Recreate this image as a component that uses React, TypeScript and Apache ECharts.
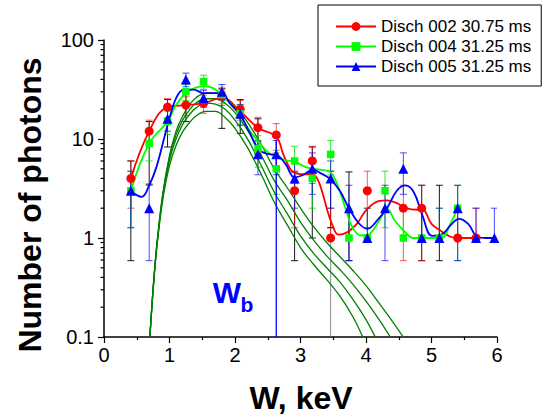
import React, { useEffect, useRef } from "react";
import * as echarts from "echarts";

// ---------- data ----------
const xValues = [0.41, 0.69, 0.97, 1.25, 1.52, 1.8, 2.08, 2.35, 2.63, 2.91, 3.18, 3.46, 3.74, 4.02, 4.29, 4.57, 4.85, 5.12, 5.4, 5.68, 5.96];

const seriesNames = ["Disch 002 30.75 ms", "Disch 004 31.25 ms", "Disch 005 31.25 ms"];

const redValues = [4, 12, 21, 22, 23, 27, 20, 13, 11, 3, 6, 1, null, 3, null, 2, 2, null, 1, 1, null];
const redLow = [2, 8.5, 16.4, 17.3, 18.2, 21.8, 15.5, 9.4, 7.7, 1.27, 3.55, 1, null, 1.27, null, 0.59, 0.59, null, 1, 1, null];
const redHigh = [6, 15.5, 25.6, 26.7, 27.8, 32.2, 24.5, 16.6, 14.3, 4.73, 8.45, 2, null, 4.73, null, 3.41, 3.41, null, 2, 2, null];

const greenValues = [3, 9, 15, 30, 38, 28, 18, 8, 5, 6, 4, 7, 1, 1, 3, 1, 1, 1, 2, null, null];
const greenLow = [1.27, 6, 11.1, 24.5, 31.8, 22.7, 13.8, 5.2, 2.76, 3.55, 2, 4.35, 1, 1, 1.27, 1, 1, 1, 0.59, null, null];
const greenHigh = [4.73, 12, 18.9, 35.5, 44.2, 33.3, 22.2, 10.8, 7.24, 8.45, 6, 9.65, 2, 2, 4.73, 2, 2, 2, 3.41, null, null];

const blueValues = [3, 2, 16, 40, 26, 30, 18, 7, 7, 4, 5, 4, 2, 1, 2, 5, 1, 1, 2, 1, 1];
const blueLow = [1.27, 0.59, 12, 33.7, 20.9, 24.5, 13.8, 4.35, 4.35, 2, 2.76, 2, 0.59, 1, 0.59, 2.76, 1, 1, 0.59, 1, 1];
const blueHigh = [4.73, 3.41, 20, 46.3, 31.1, 35.5, 22.2, 9.65, 9.65, 6, 7.24, 6, 3.41, 2, 3.41, 7.24, 2, 2, 3.41, 2, 2];

const blackBarX = [0.41, 0.69, 0.97, 1.25, 1.8, 2.08, 2.35, 2.91, 3.18, 3.46, 3.74, 4.85, 5.12];
const blackBarLow = [0.59, 3.5, 8.3, 15, 12.8, 11.4, 7, 0.59, 1.0, 1.27, 0.59, 0.59, 0.59];
const blackBarHigh = [6, 15, 25, 29, 32, 25, 16, 4.65, 8.3, 4.73, 4.65, 3.41, 3.41];

const grayBarX = [3.46];
const grayBarLow = [0.1];
const grayBarHigh = [1.27];

// smoothed curves through the data (as drawn in the reference)
const redCurve = [
  [0.41, 4], [0.69, 12], [0.97, 21], [1.25, 22], [1.52, 23], [1.8, 26], [2.08, 19], [2.35, 13],
  [2.63, 10.5], [2.74, 6.9], [2.85, 4.9], [2.93, 4.5], [3.09, 4.4], [3.19, 4.4], [3.27, 3.8],
  [3.34, 2.8], [3.41, 1.9], [3.48, 1.39], [3.58, 1.08], [3.71, 1.14], [3.86, 1.39], [4.0, 1.9],
  [4.19, 2.36], [4.32, 2.4], [4.47, 2.25], [4.6, 2.02], [4.78, 1.93], [4.86, 1.95], [5.0, 1.39],
  [5.15, 1.17], [5.29, 1.03], [5.43, 1.0], [5.69, 1.0],
];
const greenCurve = [
  [0.41, 3], [0.69, 9], [0.97, 15], [1.1, 22], [1.25, 29], [1.4, 33], [1.52, 34], [1.65, 33],
  [1.8, 28], [1.95, 22], [2.08, 17], [2.23, 12], [2.35, 9.5], [2.53, 7.1], [2.63, 6.6], [2.77, 6.1],
  [2.91, 5.9], [3.08, 5.2], [3.19, 5.0], [3.3, 4.9], [3.45, 4.65], [3.56, 3.5], [3.68, 2.05],
  [3.79, 1.29], [3.92, 1.06], [4.05, 1.1], [4.19, 1.45], [4.32, 1.98], [4.44, 1.5], [4.6, 1.14],
  [4.72, 1.0], [4.93, 1.0], [5.15, 1.0], [5.29, 1.4], [5.4, 2.0],
];
const blueCurve = [
  [0.41, 3], [0.575, 2.6], [0.69, 3.4], [0.8, 5.2], [0.93, 10.9], [0.99, 15.5], [1.11, 26.7],
  [1.22, 31.6], [1.37, 31.6], [1.52, 29], [1.66, 29], [1.8, 29], [1.92, 23], [2.08, 17.5],
  [2.23, 11.4], [2.35, 8.0], [2.48, 7.1], [2.63, 6.9], [2.77, 5.6], [2.91, 4.1], [3.03, 4.3],
  [3.19, 4.9], [3.31, 4.5], [3.44, 4.0], [3.6, 3.0], [3.74, 2.0], [3.89, 1.41], [4.02, 1.24],
  [4.19, 1.56], [4.32, 2.0], [4.47, 3.0], [4.6, 3.4], [4.73, 2.9], [4.86, 1.7], [5.01, 1.05],
  [5.15, 1.08], [5.29, 1.34], [5.42, 1.56], [5.56, 1.39], [5.7, 1.03], [5.84, 1.0], [5.98, 1.0],
];

// model spectra (dark green)
const modelCurveA = [
  [0.7, 0.1], [0.74, 0.25], [0.78, 0.55], [0.82, 1.05], [0.9, 2.9], [1.0, 6.8], [1.1, 12], [1.2, 17],
  [1.3, 22], [1.4, 26], [1.55, 29], [1.7, 29], [1.85, 26], [2.0, 21.5], [2.2, 14.5], [2.4, 8.8],
  [2.6, 5], [2.8, 3.2], [3.0, 2.0], [3.2, 1.3], [3.4, 0.9], [3.6, 0.65], [3.8, 0.47], [4.0, 0.33],
  [4.2, 0.22], [4.4, 0.145], [4.57, 0.1],
];
const modelCurveB = [
  [0.7, 0.1], [0.74, 0.25], [0.78, 0.55], [0.82, 1.03], [0.9, 2.8], [1.0, 6.5], [1.1, 11], [1.2, 15.5],
  [1.3, 19.5], [1.4, 23], [1.55, 25.5], [1.7, 25.5], [1.85, 23], [2.0, 18.5], [2.2, 12], [2.4, 6.9],
  [2.6, 3.8], [2.8, 2.4], [3.0, 1.45], [3.2, 0.95], [3.4, 0.66], [3.6, 0.48], [3.8, 0.34], [4.0, 0.23],
  [4.2, 0.15], [4.37, 0.1],
];
const modelCurveC = [
  [0.7, 0.1], [0.74, 0.25], [0.78, 0.54], [0.82, 1.0], [0.9, 2.7], [1.0, 6.1], [1.1, 10], [1.2, 14],
  [1.3, 17.5], [1.4, 20.5], [1.55, 23], [1.7, 22.5], [1.85, 20], [2.0, 15.5], [2.2, 9.8], [2.4, 5.4],
  [2.6, 2.9], [2.8, 1.75], [3.0, 1.05], [3.2, 0.7], [3.4, 0.5], [3.6, 0.36], [3.8, 0.24], [4.0, 0.15],
  [4.14, 0.1],
];
const modelCurveD = [
  [0.7, 0.1], [0.74, 0.24], [0.78, 0.52], [0.82, 0.97], [0.9, 2.5], [1.0, 5.4], [1.1, 8.6], [1.2, 11.8],
  [1.3, 14.5], [1.4, 17], [1.55, 19], [1.7, 19], [1.85, 16.5], [2.0, 12.8], [2.2, 8.0], [2.4, 4.4],
  [2.6, 2.3], [2.8, 1.35], [3.0, 0.8], [3.2, 0.54], [3.4, 0.38], [3.6, 0.26], [3.8, 0.16], [3.95, 0.1],
];

const wbX = 2.63;
const wbTop = 9.65;

const xTickValues = [0, 1, 2, 3, 4, 5, 6];
const yMajorTicks = [0.1, 1, 10, 100];

// ---------- helpers ----------
const FONT = '"Liberation Sans", Arial, sans-serif';
const RED = "#ff0000";
const GREEN = "#00ff00";
const BLUE = "#0000ff";
const DARK_GREEN = "#008000";

function points(vals: (number | null)[]) {
  const out: number[][] = [];
  vals.forEach((v, i) => {
    if (v !== null) out.push([xValues[i], v]);
  });
  return out;
}

function bars(vals: (number | null)[], low: (number | null)[], high: (number | null)[]) {
  const out: number[][] = [];
  vals.forEach((v, i) => {
    if (v !== null && low[i] !== null && high[i] !== null) out.push([xValues[i], low[i] as number, high[i] as number]);
  });
  return out;
}

function errorBarSeries(data: number[][], color: string, z: number, bottomCap = true) {
  return {
    type: "custom",
    silent: true,
    z,
    clip: true,
    encode: { x: 0, y: [1, 2] },
    data,
    renderItem: (params: any, api: any) => {
      const x = api.value(0);
      const lo = api.value(1);
      const hi = api.value(2);
      const top = api.coord([x, hi]);
      const bot = api.coord([x, lo]);
      const w = 3.5;
      const style = { stroke: color, lineWidth: 1 };
      const children: any[] = [
        { type: "line", shape: { x1: top[0], y1: top[1], x2: bot[0], y2: bot[1] }, style },
        { type: "line", shape: { x1: top[0] - w, y1: top[1], x2: top[0] + w, y2: top[1] }, style },
      ];
      if (bottomCap) {
        children.push({ type: "line", shape: { x1: bot[0] - w, y1: bot[1], x2: bot[0] + w, y2: bot[1] }, style });
      }
      return { type: "group", children };
    },
  };
}

function modelSeries(data: number[][]) {
  return {
    type: "line",
    data,
    smooth: 0.4,
    showSymbol: false,
    symbol: "none",
    silent: true,
    z: 2,
    lineStyle: { color: DARK_GREEN, width: 1.3 },
  };
}

// minor ticks of the log axis (2..9 in each decade)
const yMinorTicks: number[] = [];
[0.1, 1, 10].forEach((d) => {
  for (let k = 2; k <= 9; k++) yMinorTicks.push(+(d * k).toPrecision(3));
});

export default function App() {
  const ref = useRef<HTMLDivElement>(null);

  useEffect(() => {
    if (!ref.current) return;
    const chart = echarts.init(ref.current, undefined, { renderer: "svg" });

    const option: any = {
      animation: false,
      backgroundColor: "#ffffff",
      textStyle: { fontFamily: FONT },
      grid: { left: 104, right: 49, top: 40, bottom: 80 },
      legend: {
        data: seriesNames,
        orient: "vertical",
        left: 318,
        top: 5,
        padding: [13, 10, 11, 17],
        itemGap: 3,
        itemWidth: 40,
        itemHeight: 11,
        borderColor: "#000",
        borderWidth: 1,
        backgroundColor: "#fff",
        textStyle: { fontFamily: FONT, fontSize: 17, color: "#000", lineHeight: 17 },
      },
      xAxis: {
        type: "value",
        min: xTickValues[0],
        max: xTickValues[xTickValues.length - 1],
        interval: 1,
        axisLine: { show: true, onZero: false, lineStyle: { color: "#000", width: 1.5 } },
        axisTick: { show: true, length: 6, lineStyle: { color: "#000", width: 1.2 } },
        minorTick: { show: true, splitNumber: 2, length: 3, lineStyle: { color: "#000", width: 1.2 } },
        splitLine: { show: false },
        minorSplitLine: { show: false },
        axisLabel: { fontFamily: FONT, fontSize: 20, color: "#000", margin: 8 },
      },
      yAxis: {
        type: "log",
        logBase: 10,
        min: yMajorTicks[0],
        max: yMajorTicks[yMajorTicks.length - 1],
        axisLine: { show: true, lineStyle: { color: "#000", width: 1.5 } },
        axisTick: { show: true, length: 6, lineStyle: { color: "#000", width: 1.2 } },
        minorTick: { show: false },
        splitLine: { show: false },
        axisLabel: {
          fontFamily: FONT,
          fontSize: 20,
          color: "#000",
          margin: 10,
          formatter: (v: number) => String(v),
        },
      },
      graphic: [
        {
          type: "text",
          x: 30,
          y: 205,
          rotation: Math.PI / 2,
          style: {
            text: "Number of photons",
            font: `bold 32px ${FONT}`,
            fill: "#000",
            align: "center",
            verticalAlign: "middle",
            textAlign: "center",
            textVerticalAlign: "middle",
          },
        },
        {
          type: "text",
          x: 301,
          y: 398,
          style: {
            text: "W, keV",
            font: `bold 32px ${FONT}`,
            fill: "#000",
            align: "center",
            verticalAlign: "middle",
            textAlign: "center",
            textVerticalAlign: "middle",
          },
        },
        {
          type: "text",
          x: 227,
          y: 292,
          style: {
            text: "W",
            font: `bold 30px ${FONT}`,
            fill: BLUE,
            align: "center",
            verticalAlign: "middle",
            textAlign: "center",
            textVerticalAlign: "middle",
          },
        },
        {
          type: "text",
          x: 247,
          y: 304,
          style: {
            text: "b",
            font: `bold 21px ${FONT}`,
            fill: BLUE,
            align: "center",
            verticalAlign: "middle",
            textAlign: "center",
            textVerticalAlign: "middle",
          },
        },
      ],
      series: [
        // minor ticks on the log axis
        {
          type: "custom",
          silent: true,
          z: 10,
          clip: false,
          data: yMinorTicks.map((v) => [0, v]),
          encode: { x: 0, y: 1 },
          renderItem: (params: any, api: any) => {
            const p = api.coord([0, api.value(1)]);
            return {
              type: "line",
              shape: { x1: p[0] - 3.5, y1: p[1], x2: p[0], y2: p[1] },
              style: { stroke: "#000", lineWidth: 1.2 },
            };
          },
        },
        errorBarSeries(
          grayBarX.map((x, i) => [x, grayBarLow[i], grayBarHigh[i]]),
          "rgba(110,110,110,0.8)",
          1,
          false
        ),
        errorBarSeries(
          blackBarX.map((x, i) => [x, blackBarLow[i], blackBarHigh[i]]),
          "rgba(0,0,0,0.9)",
          1
        ),
        errorBarSeries(bars(redValues, redLow, redHigh), "rgba(255,0,0,0.65)", 1),
        errorBarSeries(bars(greenValues, greenLow, greenHigh), "rgba(0,230,0,0.8)", 1),
        errorBarSeries(bars(blueValues, blueLow, blueHigh), "rgba(0,0,255,0.7)", 1),
        modelSeries(modelCurveA),
        modelSeries(modelCurveB),
        modelSeries(modelCurveC),
        modelSeries(modelCurveD),
        {
          type: "line",
          silent: true,
          z: 3,
          data: [[wbX, wbTop], [wbX, yMajorTicks[0]]],
          showSymbol: false,
          symbol: "none",
          lineStyle: { color: BLUE, width: 1.3 },
        },
        {
          name: seriesNames[0],
          type: "line",
          data: redCurve,
          smooth: 0.4,
          showSymbol: false,
          symbol: "circle",
          z: 4,
          itemStyle: { color: RED },
          lineStyle: { color: RED, width: 1.8 },
        },
        {
          name: seriesNames[1],
          type: "line",
          data: greenCurve,
          smooth: 0.4,
          showSymbol: false,
          symbol: "rect",
          z: 4,
          itemStyle: { color: GREEN },
          lineStyle: { color: GREEN, width: 1.8 },
        },
        {
          name: seriesNames[2],
          type: "line",
          data: blueCurve,
          smooth: 0.4,
          showSymbol: false,
          symbol: "triangle",
          z: 4,
          itemStyle: { color: BLUE },
          lineStyle: { color: BLUE, width: 1.8 },
        },
        {
          type: "scatter",
          silent: true,
          z: 5,
          data: points(redValues),
          symbol: "circle",
          symbolSize: 9,
          itemStyle: { color: RED, opacity: 1 },
        },
        {
          type: "scatter",
          silent: true,
          z: 5,
          data: points(greenValues),
          symbol: "rect",
          symbolSize: 7.5,
          itemStyle: { color: GREEN, opacity: 1 },
        },
        {
          type: "scatter",
          silent: true,
          z: 5,
          data: points(blueValues),
          symbol: "triangle",
          symbolSize: 10,
          itemStyle: { color: BLUE, opacity: 1 },
        },
      ],
    };

    chart.setOption(option);
    return () => chart.dispose();
  }, []);

  return (
    <div
      ref={ref}
      style={{ position: "absolute", left: 0, top: 0, width: 546, height: 417 }}
    />
  );
}
